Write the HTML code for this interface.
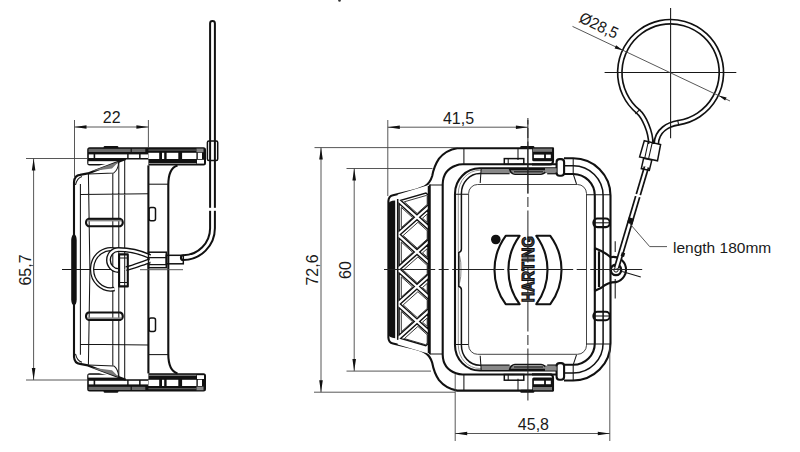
<!DOCTYPE html>
<html><head><meta charset="utf-8">
<style>
html,body{margin:0;padding:0;background:#fff;width:800px;height:452px;overflow:hidden}
svg{display:block}
.o{fill:none;stroke:#111;stroke-width:2.1;stroke-linejoin:round}
.m{fill:none;stroke:#111;stroke-width:1.5}
.t{fill:none;stroke:#161616;stroke-width:1.05}
.d{fill:none;stroke:#444;stroke-width:0.9}
.c{fill:none;stroke:#222;stroke-width:1;stroke-dasharray:52 3.5 10 3.5}
.f{fill:#111;stroke:none}
.w{fill:#fff;stroke:none}
text{font-family:"Liberation Sans",sans-serif;fill:#1a1a1a;}
.dim{transform-box:fill-box}
</style></head><body>
<svg width="800" height="452" viewBox="0 0 800 452">
<defs>
  <!-- top half of left view body, mirrored for bottom -->
  <g id="lbar">
    <path class="f" d="M87.2,149.7 Q87.2,147.2 89.7,147.2 H203.5 Q206,147.2 206,149.7 V163.1 Q206,165.6 203.5,165.6 H148.4 V159.6 H125.7 L99,165.6 H89.7 Q87.2,165.6 87.2,163.1 Z"/>
    <rect x="103.6" y="146" width="14.8" height="3" rx="1.2" class="f"/>
    <rect x="88.6" y="148.8" width="42" height="3.2" fill="#6a6a6a"/>
    <rect x="131.8" y="148.8" width="13.5" height="3.2" fill="#6a6a6a"/>
    <rect x="148.4" y="149.6" width="48" height="0.9" fill="#777"/>
    <rect x="196.5" y="148.6" width="7" height="3.6" fill="#8a8a8a"/>
    <g class="w">
      <rect x="88.8" y="154.4" width="4.8" height="3.6"/>
      <rect x="95.2" y="154.4" width="32" height="3.6"/>
      <rect x="128.6" y="154.4" width="10.5" height="3.6"/>
      <rect x="140.6" y="154.4" width="7.4" height="3.6"/>
      <rect x="148.4" y="152.8" width="10.8" height="6.2"/>
      <rect x="162" y="152.8" width="2.2" height="6.2"/>
      <rect x="166.6" y="152.8" width="11.7" height="6.2"/>
      <rect x="182.1" y="152.8" width="14.3" height="6.2"/>
      <rect x="197.8" y="152.8" width="4.2" height="6.2"/>
      <rect x="88.4" y="161.2" width="29.4" height="2.8"/>
      <rect x="197" y="159.8" width="7" height="3.8"/>
    </g>
    <rect x="148.4" y="163" width="48" height="1" fill="#8a8a8a"/>
  </g>
  <g id="lbody">
    <path class="o" d="M74,269.4 V182 Q74.5,175.5 80,174.9 L87.9,173.4 L125.7,159"/>
    <path class="t" d="M88.4,173.9 L113.8,172.9 Q118,170 118.8,162"/>
    <polygon points="92,171 119,161.6 112,168.6" fill="#777"/>
    <path class="t" d="M75.5,185 Q77,178 82,176.5 M80.4,269.4 V184 M88.4,174 L89.9,269.4 M112.8,173.4 V269.4 M118.8,161 V269.4 M124.7,159 V269.4 M80.4,194.6 L148.4,193.8"/>
    <path class="o" fill="#fff" d="M88.4,218.9 H120.4 Q122.8,220 122.8,222.6 Q122.8,225.2 120.4,226.3 H88.4 Q86,225.2 86,222.6 Q86,220 88.4,218.9 Z"/><rect x="87.5" y="219.8" width="34" height="1.6" fill="#888"/>
    <path class="o" d="M148.4,165.4 V269.4"/>
    <path class="o" d="M168.3,269.4 V185 Q168.3,168 177.5,165.4"/>
    <path class="t" d="M148.4,184.2 H168.3"/>
    <rect x="149" y="207.4" width="6.5" height="13.3" rx="2" class="m"/>
  </g>

  <clipPath id="gclip"><polygon points="396.5,201 429.5,188 429.5,350.6 396.5,337.6"/></clipPath>
  <g id="mtop">
    <!-- housing outer contour -->
    <path class="o" d="M388.4,269.4 V201 Q388.6,196.2 393,195.2 L406.5,192 Q418,189.6 424,186.8 Q430,183.5 432.2,176 Q434,166 439,158.6 Q446,150 457.2,148.2 H553 V161 Q553,164.4 550,164.4 H532"/>
    <path d="M397.7,200.5 L428.7,191.5" fill="none" stroke="#111" stroke-width="1.3"/>
    <!-- black rubber band -->
    <path class="f" d="M388.4,269.4 V204 Q389,201 395.2,200.6 V269.4 Z"/>
    <path class="t" d="M397.7,199 V269.4"/>
    <!-- housing wall -->
    <path class="o" d="M429.7,184.5 V269.4"/>
    <path class="o" d="M442.7,269.4 V184 Q443,170 456,165.5 Q459,164.3 462.6,164.3 H557"/>
    <path class="t" d="M430,184.9 H442.7 M463.9,148.2 V164.3 M518,148.5 V160"/>
    <!-- frame -->
    <path class="o" d="M455,269.4 V193.5 A24.8,25.2 0 0 1 479.8,168.3 H557"/>
    <path d="M458.3,269.4 V193.5 A21.5,23.2 0 0 1 479.8,170.3 H557" fill="none" stroke="#777" stroke-width="0.8"/>
    <path class="m" d="M461.4,249 Q461.4,251.6 458.8,252.6 V269.4 M461.4,249 V193.5 A18.4,19.9 0 0 1 479.8,173.6 H509.6"/>
    <path class="m" d="M547.2,173.6 H557"/>
    <rect x="481" y="169" width="76" height="4.2" fill="#888"/>
    <path class="t" d="M481.2,168.3 L480.2,183 M455,194.2 H468.6"/>
    <!-- inner window -->
    <path d="M468.6,269.4 V193.5 A9,9 0 0 1 477.6,184.5 H577.5 A9,9 0 0 1 586.5,193.5 V269.4" fill="none" stroke="#444" stroke-width="1"/>
    <!-- frame latch bump left -->
    <path d="M459.6,256 Q461.2,262 461,269.4" fill="none" stroke="#555" stroke-width="0.7"/>
    <!-- boss top -->
    <path class="m" d="M509.6,169.4 H547.2 Q545,174 541,174.2 H515 Q511,174 509.6,169.4 Z" fill="#fff"/>
    <path class="t" d="M514,171.8 H543"/>
    <!-- latch top -->
    <rect x="520.2" y="146" width="14.2" height="3" rx="1.2" class="f"/>
    <rect x="532.2" y="148" width="20.8" height="13.2" rx="1.5" class="f"/>
    <rect x="533" y="148.6" width="19" height="3.2" fill="#777"/>
    <rect x="533.9" y="154.6" width="10.2" height="3.5" class="w"/>
    <rect x="545.9" y="154.6" width="4.9" height="3.5" class="w"/>
    <rect x="504.3" y="158.6" width="19.5" height="5.7" class="m" fill="#fff"/>
    <path class="t" d="M508.2,158.8 V164 M514.5,164.3 H532"/>
    <!-- handle tube top -->
    <path class="o" d="M564,158.3 H573.2 A37.3,37.3 0 0 1 610.5,195.6 V269.4"/>
    <path class="m" d="M564,165.7 H573.2 A29.9,29.9 0 0 1 603.1,195.6 V269.4"/>
    <path class="o" d="M564,174 H573.2 A21.6,21.6 0 0 1 594.8,195.6 V269.4"/>
    <path class="t" d="M573.2,158.3 V174 L576.5,184 M586.5,194.8 H610.5"/>
    <rect x="556.6" y="159.1" width="7.5" height="16.6" rx="3" class="o" fill="#fff"/>
    <rect x="593.4" y="218.5" width="16.4" height="8.6" rx="4" class="o" fill="#fff"/>
    <path class="t" d="M593.4,222.8 H609.8"/>
    <rect x="545" y="168.2" width="11.6" height="4.2" fill="#888"/>
  </g>
</defs>

<!-- ================= LEFT VIEW ================= -->
<use href="#lbar"/>
<use href="#lbar" transform="translate(0,538.8) scale(1,-1)"/>
<use href="#lbody"/>
<use href="#lbody" transform="translate(0,538.8) scale(1,-1)"/>
<!-- black rubber strip -->
<path class="f" d="M71.2,240 Q71.5,234.4 74,234.4 Q76.5,234.4 76.7,240 V299.6 Q76.5,305.3 74,305.3 Q71.5,305.3 71.2,299.6 Z"/>

<!-- dimension 22 -->
<path class="d" d="M74.5,120 V178 M148.4,120 V148 M74.5,127 H148.4"/>
<path class="f" d="M74.5,127 l12,-1.8 v3.6z M148.4,127 l-12,-1.8 v3.6z"/>
<text x="111.7" y="123.3" font-size="16" text-anchor="middle">22</text>
<!-- dimension 65,7 -->
<path class="d" d="M26,158.5 H87 M26,380 H87 M33.6,158.5 V380"/>
<path class="f" d="M33.6,158.5 l-1.8,12 h3.6z M33.6,380 l-1.8,-12 h3.6z"/>
<text transform="translate(31.2,270) rotate(-90)" font-size="16" text-anchor="middle">65,7</text>
<!-- center line left view -->
<path class="t" d="M62,269.4 H118"/>

<!-- wire loop in left view -->
<path d="M116.9,250.3 A18.7,20.1 0 1 0 114.5,289" stroke="#111" stroke-width="4.4" fill="none"/>
<path d="M116.9,250.3 A18.7,20.1 0 1 0 114.5,289" stroke="#fff" stroke-width="1.9" fill="none"/>
<path d="M150,256.6 C140,252 130,249.6 118.3,249.6 A9.8,10.4 0 0 0 118.3,270.4 M126,268.6 C134,267 142,263.2 150,260.8" stroke="#111" stroke-width="5" fill="none"/>
<path d="M150,256.6 C140,252 130,249.6 118.3,249.6 A9.8,10.4 0 0 0 118.3,270.4 M126,268.6 C134,267 142,263.2 150,260.8" stroke="#fff" stroke-width="2.3" fill="none"/>
<rect x="119.1" y="254.4" width="8.7" height="32" class="o" fill="#fff"/>
<path class="t" d="M119.1,258 H127.8 M119.1,282.4 H127.8"/>
<path d="M183.3,257.6 A29.5,29.5 0 0 0 212.5,228.2 V23.4" stroke="#111" stroke-width="6.8" fill="none" stroke-linecap="round"/>
<path d="M183.3,257.6 A29.5,29.5 0 0 0 212.5,228.2 V23.4" stroke="#fff" stroke-width="2.8" fill="none" stroke-linecap="round"/>
<path class="w" d="M209,207.8 h8 v3 h-8z"/>
<rect x="166.3" y="255.3" width="17" height="8.5" class="m" fill="#fff"/>
<rect x="148.5" y="252.2" width="17.8" height="15.5" class="m" fill="#fff"/>
<path class="t" d="M148.5,257.6 H166.3 M148.5,264.6 H166.3"/>
<path class="d" d="M140,269.7 H183"/>
<!-- vertical wire ferrule -->
<rect x="207.4" y="141" width="10.3" height="19.4" rx="1.5" class="m" fill="#fff"/>

<!-- ================= MIDDLE VIEW ================= -->
<use href="#mtop"/>
<use href="#mtop" transform="translate(0,538.8) scale(1,-1)"/>
<!-- lattice -->
<path d="M397.7,194.4 L428.7,185.1 V353.7 L397.7,344.4 Z" fill="#fff" stroke="none"/>
<path d="M417.0,214.8 L428.1,204.9 L428.1,194.9 L425.9,193.0 L400.8,200.3Z M419.7,217.2 L428.1,224.8 L428.1,209.7Z M417.0,219.7 L400.4,234.6 L417.0,249.5 L428.1,239.6 L428.1,229.6Z M419.7,252.0 L428.1,259.5 L428.1,244.4Z M417.0,254.4 L400.4,269.3 L417.0,284.2 L428.1,274.3 L428.1,264.3Z M419.7,286.6 L428.1,294.2 L428.1,279.1Z M417.0,289.1 L400.4,304.0 L417.0,318.9 L428.1,309.0 L428.1,299.0Z M419.7,321.4 L428.1,328.9 L428.1,313.8Z M417.0,323.8 L400.7,338.5 L425.8,345.7 L428.1,343.7 L428.1,333.7Z M414.3,321.4 L399.1,307.7 L399.1,335.0Z M414.3,286.6 L399.1,273.0 L399.1,300.3Z M414.3,252.0 L399.1,238.3 L399.1,265.6Z M414.3,217.2 L399.1,203.6 L399.1,230.9Z" fill="#fff" stroke="#111" stroke-width="1.4"/>
<path d="M426.5,195.4 L404.3,201.8 L417.2,213.4 L427.2,204.4 L427.2,196.0Z M427.2,222.3 L427.2,214.0 L422.5,218.2Z M403.2,235.5 L417.2,248.1 L427.2,239.1 L427.2,230.7 L417.9,222.3Z M427.2,257.0 L427.2,248.7 L422.5,252.9Z M403.2,270.2 L417.2,282.8 L427.2,273.8 L427.2,265.4 L417.9,257.0Z M427.2,291.7 L427.2,283.4 L422.5,287.5Z M403.2,304.9 L417.2,317.5 L427.2,308.5 L427.2,300.1 L417.9,291.7Z M427.2,326.4 L427.2,318.1 L422.5,322.2Z M404.4,338.6 L425.5,344.7 L427.2,343.2 L427.2,334.8 L417.9,326.4Z M401.3,311.5 L401.3,331.8 L412.6,321.7Z M401.3,276.8 L401.3,297.1 L412.6,287.0Z M401.3,242.1 L401.3,262.4 L412.6,252.3Z M401.3,207.4 L401.3,227.7 L412.6,217.6Z" fill="none" stroke="#222" stroke-width="0.9"/>
<path class="m" d="M397.7,199 V339.8 M428.5,186 V353"/>
<!-- HARTING logo -->
<circle cx="495.8" cy="239.5" r="4.8" class="f"/>
<path class="o" d="M505.7,235.8 H519.6 A57.8,57.8 0 0 0 519.6,304.2 H505.7 A57.8,57.8 0 0 1 505.7,235.8 Z"/>
<path class="o" d="M536.3,235.8 H550.3 A57.8,57.8 0 0 1 550.3,304.2 H536.3 A57.8,57.8 0 0 0 536.3,235.8 Z"/>

<!-- pivot -->
<path class="o" d="M595,248.2 L601.3,251 Q607,254 610.6,257.2 A12.2,12.2 0 1 1 616,282.1 Q608,282 601.3,287.8 L595,290.8 Z" fill="#fff"/>
<path d="M599,251.3 V287" stroke="#111" stroke-width="2.2"/>
<circle cx="616" cy="269.9" r="5.2" fill="none" stroke="#111" stroke-width="2.4"/>
<circle cx="616" cy="269.9" r="2.2" fill="none" stroke="#111" stroke-width="1"/>
<path class="t" d="M615.2,241.2 V252 M615.2,279 V298.6 M622.2,271.4 L640.8,276.9"/>

<!-- dimension lines -->
<path class="d" d="M387.8,120 V196 M387.8,127.2 H527.9"/>
<path class="f" d="M387.8,127.2 l12,-1.8 v3.6z M527.9,127.2 l-12,-1.8 v3.6z"/>
<text x="458.5" y="124.3" font-size="16" text-anchor="middle">41,5</text>
<path class="d" d="M314.5,147.6 H458 M314,392.2 H455 M321,147.6 V392.2"/>
<path class="f" d="M321,147.6 l-1.8,12 h3.6z M321,392.2 l-1.8,-12 h3.6z"/>
<text transform="translate(317.5,270) rotate(-90)" font-size="16" text-anchor="middle">72,6</text>
<path class="d" d="M346.5,168.5 H432.5 M346.5,371.1 H431 M354.2,168.5 V371.1"/>
<path class="f" d="M354.2,168.5 l-1.8,12 h3.6z M354.2,371.1 l-1.8,-12 h3.6z"/>
<text transform="translate(351.4,270) rotate(-90)" font-size="16" text-anchor="middle">60</text>
<path class="d" d="M455.2,374 V441 M609.8,345 V441 M455.2,433.5 H609.8"/>
<path class="f" d="M455.2,433.5 l12,-1.8 v3.6z M609.8,433.5 l-12,-1.8 v3.6z"/>
<text x="533.4" y="430" font-size="16" text-anchor="middle">45,8</text>

<!-- center lines -->
<path class="c" d="M527.9,118 V403" stroke-dashoffset="45.5"/>
<path d="M527.9,120 V193.5" stroke="#222" stroke-width="1"/>
<path class="c" d="M384,269.5 H645" stroke-dashoffset="0.8"/>
<text transform="translate(533.5,302.3) rotate(-90)" font-size="16.5" textLength="66" lengthAdjust="spacingAndGlyphs" style="fill:#555;font-weight:bold;stroke:#111;stroke-width:1.2">HARTING</text>


<!-- wire to loop -->
<path d="M616.5,268 L646.5,167" stroke="#111" stroke-width="5.9" fill="none"/>
<path d="M616.5,268 L646.5,167" stroke="#fff" stroke-width="2.5" fill="none"/>
<path d="M631.4,218 L629.7,223.6" stroke="#111" stroke-width="5.4"/>
<path d="M634,194.5 L642,196.8" stroke="#fff" stroke-width="2.2"/>
<path d="M650.8,144 C651,132 644,116.5 637.9,111.4 A50.8,50.8 0 1 1 678.5,122.7 C668.6,124.3 657,130 656.2,144" stroke="#111" stroke-width="6.0" fill="none"/>
<path d="M650.8,144 C651,132 644,116.5 637.9,111.4 A50.8,50.8 0 1 1 678.5,122.7 C668.6,124.3 657,130 656.2,144" stroke="#fff" stroke-width="2.7" fill="none"/>
<path class="t" d="M635.4,113.8 L640.2,109.2 M677.6,119.8 L678.8,125.6"/>
<path class="m" d="M643.6,158.3 L651.8,160.1 L649.3,170.4 L641.3,168.6 Z" fill="#fff"/>
<path class="m" d="M644.3,140.7 L660.6,144.5 L657.5,160.8 L639.6,156.9 Z" fill="#fff"/>
<path class="t" d="M648.2,142 L644.8,157.8 M652.2,142.8 L648.6,158.6"/>
<path class="t" d="M604.6,72.5 H736.3 M670.6,8.1 V138.3"/>
<path class="d" d="M572.5,26.4 L730,101"/>
<path class="f" d="M622.6,50.3 L614.6,48.4 L616.1,45.3Z M718.6,95.6 L725.1,100.6 L726.6,97.5Z"/>
<text transform="translate(578,21.6) rotate(25.3) scale(0.94,1)" font-size="16">Ø28,5</text>
<circle cx="339.5" cy="0.5" r="1.3" fill="#333"/>
<path d="M621.2,254.2 L624.6,255.2" stroke="#111" stroke-width="4"/>
<!-- length 180mm -->
<path class="d" d="M629.6,223.4 L649.7,246.6 H667"/>
<text x="673" y="252.8" font-size="15.5">length 180mm</text>
</svg>
</body></html>
